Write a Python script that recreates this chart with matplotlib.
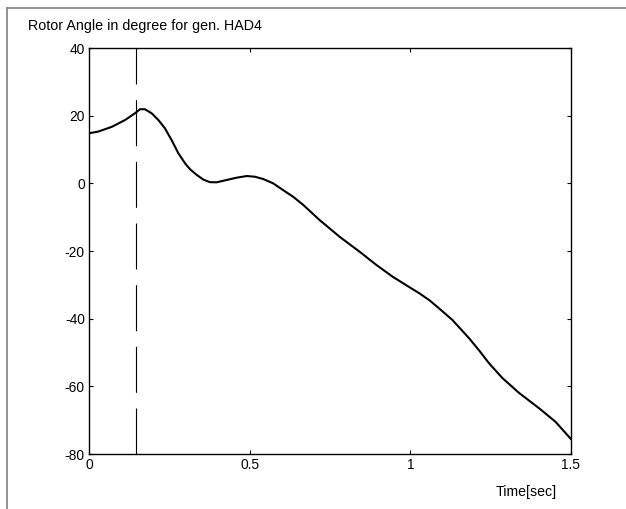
import matplotlib
matplotlib.use("Agg")
import matplotlib.pyplot as plt
from matplotlib.lines import Line2D

plt.rcParams['font.family'] = ['Liberation Sans', 'DejaVu Sans']
plt.rcParams['lines.scale_dashes'] = False

# Data
time_s = [0.0, 0.029, 0.071, 0.112, 0.143, 0.159, 0.174, 0.195, 0.216, 0.236,
          0.257, 0.278, 0.299, 0.314, 0.335, 0.356, 0.376, 0.397, 0.428, 0.459,
          0.491, 0.516, 0.542, 0.573, 0.604, 0.635, 0.667, 0.717, 0.78, 0.842,
          0.894, 0.945, 0.987, 1.028, 1.06, 1.09, 1.131, 1.183, 1.215, 1.245,
          1.287, 1.339, 1.401, 1.452, 1.5]
angle_deg = [14.8, 15.3, 16.7, 18.7, 20.7, 21.9, 21.9, 20.7, 18.7, 16.3,
             12.8, 8.9, 5.9, 4.2, 2.5, 1.1, 0.35, 0.3, 0.98, 1.66,
             2.16, 1.96, 1.28, 0.0, -2.0, -3.95, -6.4, -10.8, -15.8, -20.2,
             -24.1, -27.6, -30.1, -32.5, -34.6, -37.0, -40.4, -45.8, -49.5, -53.2,
             -57.6, -62.0, -66.5, -70.5, -75.6]
fault_clear_t = 0.147

x_ticks = [0, 0.5, 1, 1.5]
x_ticklabels = ['0', '0.5', '1', '1.5']
y_ticks = [-80, -60, -40, -20, 0, 20, 40]
y_ticklabels = ['-80', '-60', '-40', '-20', '0', '20', '40']

title_text = 'Rotor Angle in degree for gen. HAD4'
xlabel_text = 'Time[sec]'

W, H = 626, 509
fig = plt.figure(figsize=(W / 100, H / 100), dpi=100)
ax = fig.add_axes([89 / W, (H - 454) / H, (571 - 89) / W, (454 - 48) / H])

ax.plot(time_s, angle_deg, color='black', linewidth=1.5)
ax.plot([fault_clear_t, fault_clear_t], [-80, 40], color='black',
        linewidth=0.8, dashes=(33.1, 11.3))

ax.set_xlim(0, 1.5)
ax.set_ylim(-80, 40)
ax.set_xticks(x_ticks)
ax.set_xticklabels(x_ticklabels)
ax.set_yticks(y_ticks)
ax.set_yticklabels(y_ticklabels)
ax.tick_params(direction='in', length=3, width=0.8, top=True, right=True,
               labelsize=9.9, pad=3, colors='black')
for s in ax.spines.values():
    s.set_linewidth(1.0)
    s.set_color('black')

fig.text(28 / W, 1 - 26 / H, title_text, ha='left', va='center', fontsize=10.3)
fig.text(557 / W, 1 - 492 / H, xlabel_text, ha='right', va='center', fontsize=10.2)

# outer grey frame (left and top edges visible)
fig.add_artist(Line2D([7 / W, 7 / W], [0, 1 - 8 / H], transform=fig.transFigure,
                      color='#808080', linewidth=1.2))
fig.add_artist(Line2D([7 / W, 1], [1 - 8 / H, 1 - 8 / H], transform=fig.transFigure,
                      color='#808080', linewidth=1.2))

fig.savefig('out.png', dpi=100)
